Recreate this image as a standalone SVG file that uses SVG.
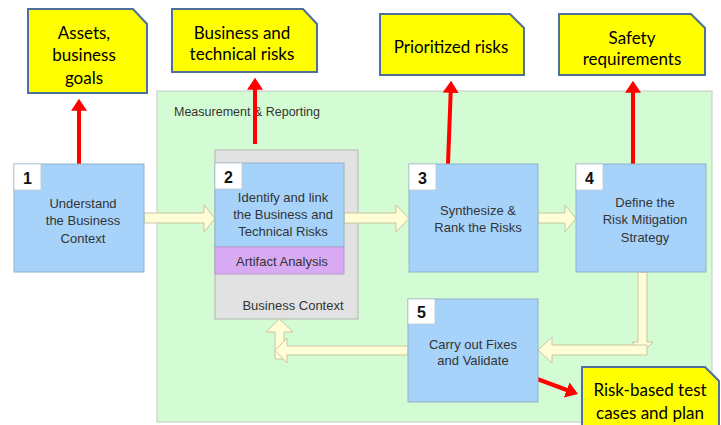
<svg xmlns="http://www.w3.org/2000/svg" width="721" height="425" viewBox="0 0 721 425">
<defs>
<marker id="redHead" markerWidth="4" markerHeight="4" refX="2.2" refY="2" orient="auto" markerUnits="strokeWidth">
<path d="M0,0 L3,2 L0,4 Z" fill="#ff0000"/>
</marker>
<style>
.out{fill:#ffff00;stroke:#4f6f9c;stroke-width:2}
.outt{font-family:Lato,"Liberation Sans",sans-serif;font-size:17px;fill:#000;text-anchor:middle;dominant-baseline:central}
.blue{fill:#a7d3fb;stroke:#8fb1c6;stroke-width:1}
.num{fill:#fff;stroke:#b8c8d0;stroke-width:0.8}
.numt{font-family:"Liberation Sans",Arial,sans-serif;font-size:16px;font-weight:bold;fill:#111;dominant-baseline:central;text-anchor:middle}
.bt{font-family:"Liberation Sans",Arial,sans-serif;font-size:13px;fill:#333;text-anchor:middle;dominant-baseline:central}
.hollow{fill:#fffdd6;stroke:#c9c6a0;stroke-width:1}
.red{stroke:#ff0000;stroke-width:4;fill:none;marker-end:url(#redHead)}
</style>
</defs>
<rect width="721" height="425" fill="#fff"/>

<g id="measurement">
<rect x="157" y="91" width="555" height="331" fill="#d4fcd4" stroke="#c4c8c4" stroke-width="1"/>
<text x="174" y="112" font-family="'Liberation Sans',Arial,sans-serif" font-size="12.5" fill="#333" dominant-baseline="central">Measurement &amp; Reporting</text>
</g>

<g id="business-context">
<rect x="215" y="150" width="143" height="169" fill="#e2e2e2" stroke="#b4b4b4" stroke-width="1"/>
<text x="293" y="305" class="bt">Business Context</text>
</g>

<g id="connectors">
<polygon class="hollow" points="144,213 204,213 204,205 215,218.5 204,232 204,223 144,223"/>
<polygon class="hollow" points="344,213 396,213 396,205 409,218.5 396,232 396,223 344,223"/>
<polygon class="hollow" points="538,213 565,213 565,205 576,218.5 565,232 565,223 538,223"/>
<polygon class="hollow" points="638,272 647,272 647,342 653,342 642.5,352 632,342 638,342"/>
<polygon class="hollow" points="647,345 647,355 552,355 552,363 538,350 552,337 552,345"/>
<polygon class="hollow" points="275,359 275,332 266,332 279.5,319 293,332 284,332 284,359"/>
<polygon class="hollow" points="408,346 408,355 287,355 287,363 275,350.5 287,338 287,346"/>
<line class="red" x1="79" y1="164" x2="79" y2="102"/>
<line class="red" x1="255" y1="144" x2="255" y2="81"/>
<line class="red" x1="448" y1="164" x2="451" y2="84"/>
<line class="red" x1="633" y1="164" x2="633" y2="84"/>
<line class="red" x1="521" y1="373" x2="575" y2="393"/>
</g>

<g id="step1">
<rect class="blue" x="14" y="164" width="130" height="108"/>
<rect class="num" x="14" y="164" width="27" height="26"/>
<text class="numt" x="27.5" y="178">1</text>
<text class="bt" x="83" y="203">Understand</text>
<text class="bt" x="83" y="220.5">the Business</text>
<text class="bt" x="83" y="238">Context</text>
</g>

<g id="step2">
<rect class="blue" x="215" y="163" width="129" height="84"/>
<rect x="215" y="247" width="129" height="27" fill="#d8aaf4" stroke="#b79ac8" stroke-width="1"/>
<rect class="num" x="215" y="163" width="27" height="26"/>
<text class="numt" x="228.5" y="177">2</text>
<text class="bt" x="283" y="197">Identify and link</text>
<text class="bt" x="283" y="214.5">the Business and</text>
<text class="bt" x="283" y="231.5">Technical Risks</text>
<text class="bt" x="282" y="261" fill="#3a2a4a">Artifact Analysis</text>
</g>

<g id="step3">
<rect class="blue" x="409" y="164" width="129" height="108"/>
<rect class="num" x="409" y="164" width="27" height="26"/>
<text class="numt" x="422.5" y="178">3</text>
<text class="bt" x="478" y="210">Synthesize &amp;</text>
<text class="bt" x="478" y="227">Rank the Risks</text>
</g>

<g id="step4">
<rect class="blue" x="576" y="164" width="130" height="108"/>
<rect class="num" x="576" y="164" width="27" height="26"/>
<text class="numt" x="589.5" y="178">4</text>
<text class="bt" x="645" y="202">Define the</text>
<text class="bt" x="645" y="219.5">Risk Mitigation</text>
<text class="bt" x="645" y="237">Strategy</text>
</g>

<g id="step5">
<rect class="blue" x="408" y="299" width="130" height="103"/>
<rect class="num" x="408" y="299" width="27" height="25"/>
<text class="numt" x="421.5" y="312">5</text>
<text class="bt" x="473" y="344">Carry out Fixes</text>
<text class="bt" x="473" y="360">and Validate</text>
</g>

<g id="out-assets">
<path class="out" d="M28,9 H133 L147,24 V93 H28 Z"/>
<text class="outt" x="84" y="32">Assets,</text>
<text class="outt" x="84" y="54">business</text>
<text class="outt" x="84" y="77">goals</text>
</g>

<g id="out-risks">
<path class="out" d="M172,9 H303 L317,24 V72 H172 Z"/>
<text class="outt" x="242" y="32">Business and</text>
<text class="outt" x="242" y="53">technical risks</text>
</g>

<g id="out-prioritized">
<path class="out" d="M380,14 H510 L524,28 V75 H380 Z"/>
<text class="outt" x="451" y="46">Prioritized risks</text>
</g>

<g id="out-safety">
<path class="out" d="M559,14 H691 L705,28 V75 H559 Z"/>
<text class="outt" x="632" y="37">Safety</text>
<text class="outt" x="632" y="58">requirements</text>
</g>

<g id="out-tests">
<path class="out" d="M582,367 H705 L719,381 V430 H582 Z"/>
<text class="outt" x="650" y="389">Risk-based test</text>
<text class="outt" x="650" y="412">cases and plan</text>
</g>
</svg>
